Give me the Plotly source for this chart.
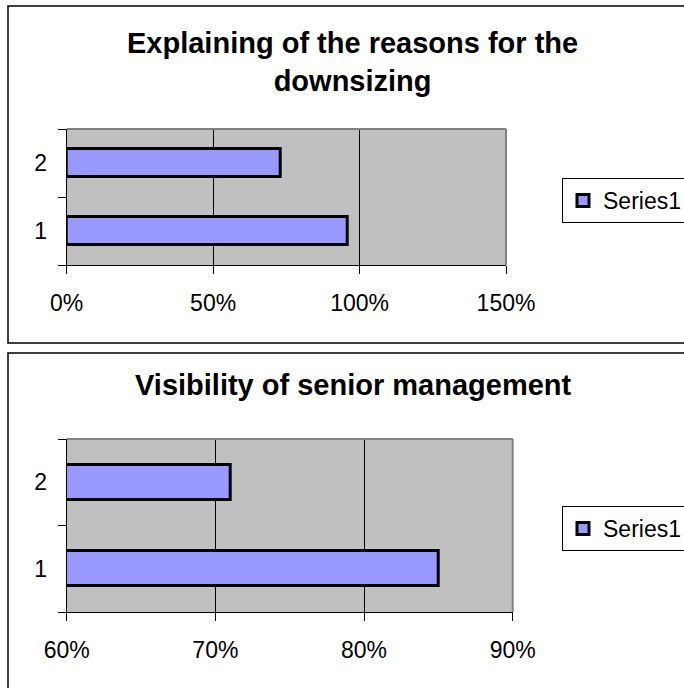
import plotly.graph_objects as go

# Survey results: share of respondents per item
categories = ["1", "2"]
reasons_values = [0.96, 0.73]      # Explaining of the reasons for the downsizing
visibility_values = [0.85, 0.71]   # Visibility of senior management
series_name = "Series1"

top_title = "Explaining of the reasons for the<br>downsizing"
bottom_title = "Visibility of senior management"

W, H = 684, 688
FONT = "Arial, Liberation Sans, sans-serif"
BAR_FILL = "#9999FF"
PLOT_BG = "#C0C0C0"


def px_x(v):
    return v / W


def px_y(v):
    return 1 - v / H


fig = go.Figure()

fig.add_trace(go.Bar(
    y=categories, x=reasons_values, orientation="h", name=series_name,
    marker=dict(color=BAR_FILL, line=dict(color="black", width=3)),
    width=0.41, xaxis="x", yaxis="y", legend="legend",
    hoverinfo="x+y",
))
fig.add_trace(go.Bar(
    y=categories, x=visibility_values, orientation="h", name=series_name,
    marker=dict(color=BAR_FILL, line=dict(color="black", width=3)),
    width=0.40, xaxis="x2", yaxis="y2", legend="legend2",
    hoverinfo="x+y",
))

tick_font = dict(family=FONT, size=23, color="black")

xaxis_common = dict(
    showgrid=True, gridcolor="black", gridwidth=1,
    showline=True, linecolor="black", linewidth=1,
    ticks="outside", ticklen=8, tickcolor="black", tickwidth=1,
    tickformat=".0%", tickfont=tick_font, ticklabelstandoff=9,
    zeroline=False, fixedrange=True,
)
yaxis_common = dict(
    type="category", range=[-0.5, 1.5], tickson="boundaries",
    showgrid=False, showline=True, linecolor="black", linewidth=1,
    ticks="outside", ticklen=8, tickcolor="black", tickwidth=1,
    tickfont=tick_font, ticklabelstandoff=14, fixedrange=True,
)

top_plot = dict(x0=66.7, x1=506.0, y0=129.0, y1=265.0)
bot_plot = dict(x0=66.7, x1=512.7, y0=439.0, y1=612.0)

legend_common = dict(
    xanchor="left", yanchor="top",
    bgcolor="white", bordercolor="black", borderwidth=1,
    font=dict(family=FONT, size=23), entrywidth=160,
    itemclick=False, itemdoubleclick=False,
)

fig.update_layout(
    width=W, height=H,
    margin=dict(l=0, r=0, t=0, b=0, autoexpand=False),
    paper_bgcolor="white", plot_bgcolor=PLOT_BG,
    barmode="group", bargap=0.0,
    font=dict(family=FONT, color="black"),
    xaxis=dict(xaxis_common, anchor="y", range=[0, 1.5], dtick=0.5,
               domain=[px_x(top_plot["x0"]), px_x(top_plot["x1"])]),
    yaxis=dict(yaxis_common, anchor="x",
               domain=[px_y(top_plot["y1"]), px_y(top_plot["y0"])]),
    xaxis2=dict(xaxis_common, anchor="y2", range=[0.6, 0.9], dtick=0.1,
                domain=[px_x(bot_plot["x0"]), px_x(bot_plot["x1"])]),
    yaxis2=dict(yaxis_common, anchor="x2",
                domain=[px_y(bot_plot["y1"]), px_y(bot_plot["y0"])]),
    legend=dict(legend_common, x=px_x(562), y=px_y(178)),
    legend2=dict(legend_common, x=px_x(562), y=px_y(506)),
    showlegend=True,
)

# Chart titles
fig.add_annotation(
    text=f"<b>{top_title}</b>", xref="paper", yref="paper",
    x=px_x(352), y=px_y(62), xanchor="center", yanchor="middle",
    showarrow=False, font=dict(family=FONT, size=29, color="black"),
)
fig.add_annotation(
    text=f"<b>{bottom_title}</b>", xref="paper", yref="paper",
    x=px_x(353), y=px_y(385), xanchor="center", yanchor="middle",
    showarrow=False, font=dict(family=FONT, size=29, color="black"),
)

shapes = []
# Outer frames of the two chart areas
shapes.append(dict(type="rect", xref="paper", yref="paper",
                   x0=px_x(8), x1=px_x(720), y0=px_y(343), y1=px_y(6),
                   line=dict(color="black", width=1.5), layer="below"))
shapes.append(dict(type="rect", xref="paper", yref="paper",
                   x0=px_x(8), x1=px_x(720), y0=px_y(720), y1=px_y(353),
                   line=dict(color="black", width=1.5), layer="below"))
# Grey top and right edges of each plot area
for xa, ya in (("x", "y"), ("x2", "y2")):
    shapes.append(dict(type="line", xref=f"{xa} domain", yref=f"{ya} domain",
                       x0=0, x1=1, y0=1, y1=1,
                       line=dict(color="#808080", width=2), layer="above"))
    shapes.append(dict(type="line", xref=f"{xa} domain", yref=f"{ya} domain",
                       x0=1, x1=1, y0=0, y1=1,
                       line=dict(color="#808080", width=2), layer="above"))
fig.update_layout(shapes=shapes)

fig.write_html("out.html", config={"displayModeBar": False})
